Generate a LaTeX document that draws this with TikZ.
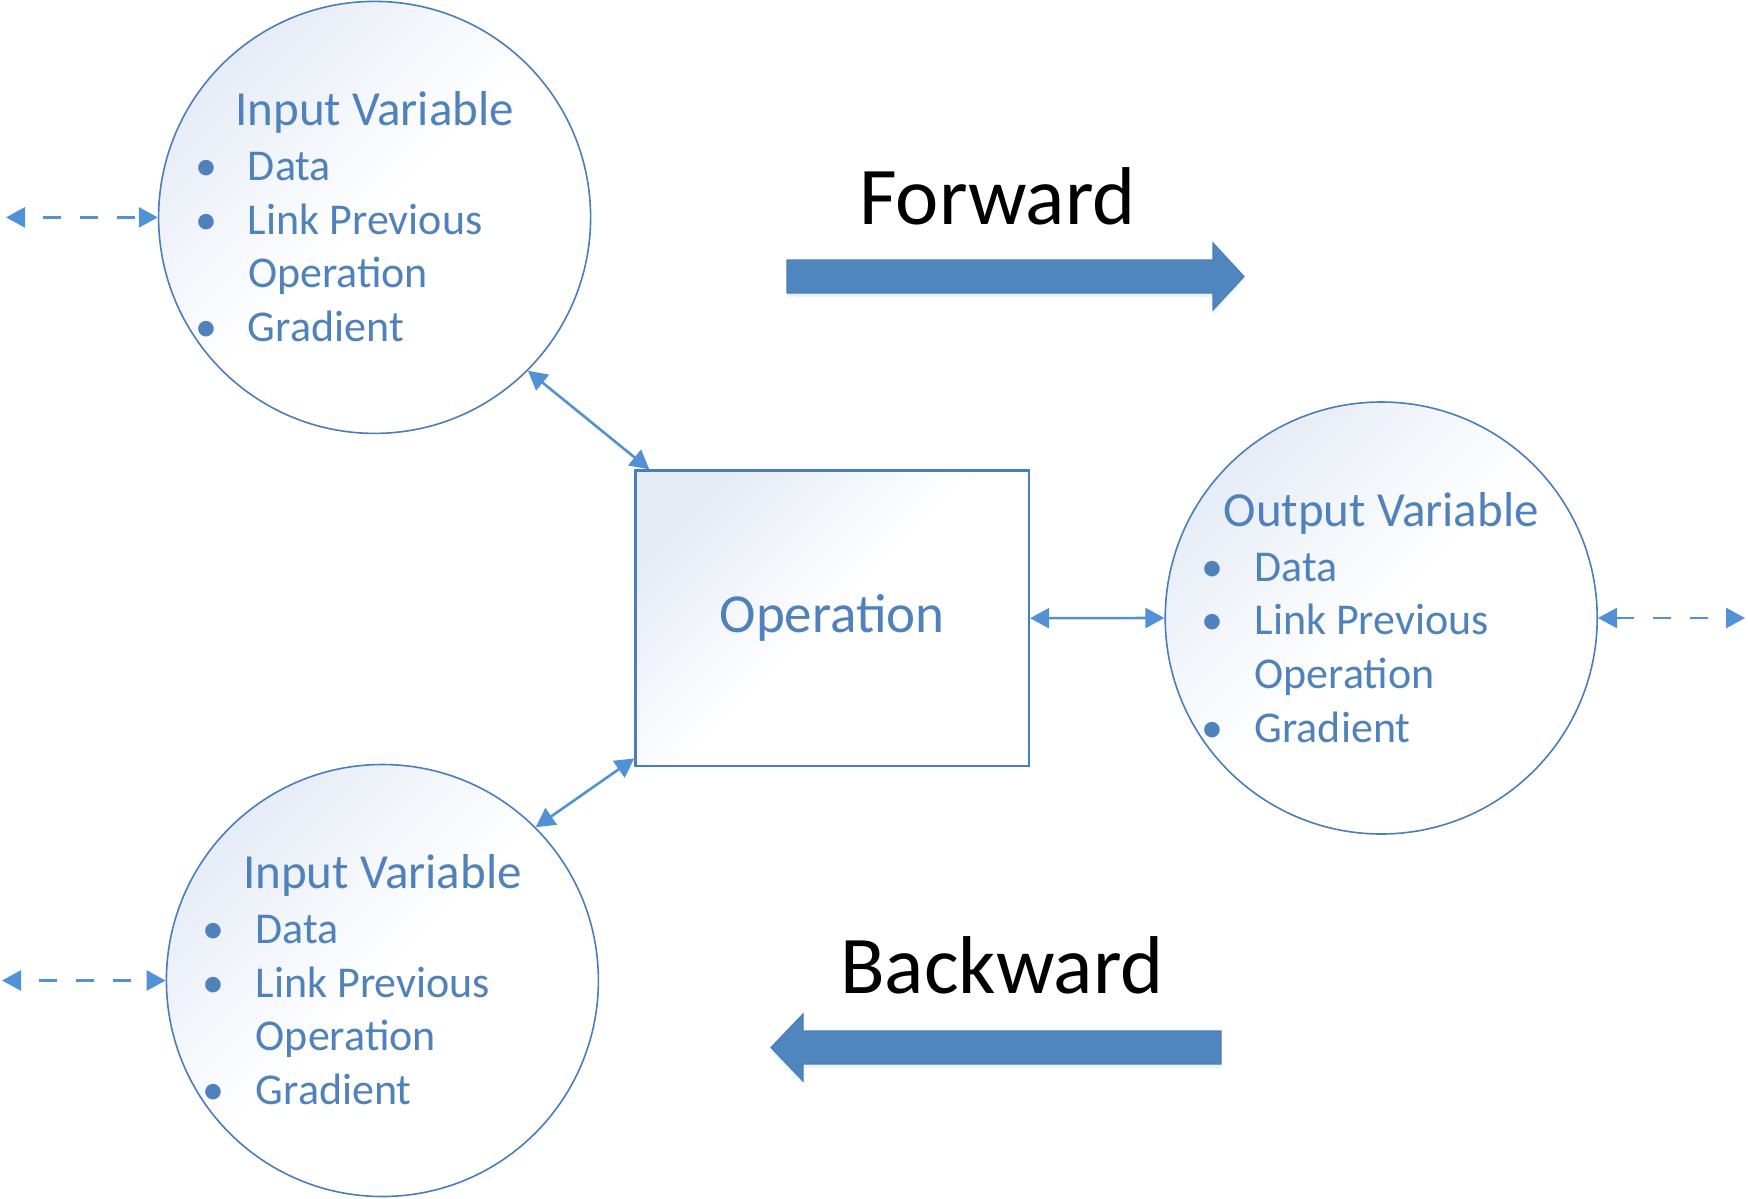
\documentclass[tikz,border=0pt]{standalone}
\usepackage{fontspec}
\setmainfont{Carlito}
\usetikzlibrary{positioning,shadows,arrows.meta}

\definecolor{varblue}{RGB}{79,129,189}
\definecolor{edgeblue}{RGB}{74,126,187}
\definecolor{linkblue}{RGB}{81,146,214}
\definecolor{shadeblue}{RGB}{230,236,246}
\definecolor{arrowfill}{RGB}{79,134,189}

\newcommand{\bull}{\makebox[42pt]{\textbullet}}
\newcommand{\nobull}{\hspace*{42pt}}

\begin{document}
\begin{tikzpicture}[
    x=0.5pt, y=-0.5pt,
    var/.style={circle, draw=edgeblue, line width=0.8pt, minimum size=216pt, inner sep=0pt,
        top color=shadeblue, bottom color=white, middle color=white, shading angle=45},
    op/.style={rectangle, draw=edgeblue, line width=1.1pt, minimum width=196.8pt, minimum height=147.7pt,
        top color=shadeblue, bottom color=white, middle color=white, shading angle=45,
        text=varblue, font=\fontsize{27.5}{33}\selectfont},
    heading/.style={anchor=base, inner sep=0pt, text=varblue, font=\fontsize{24.5}{29}\selectfont},
    items/.style={anchor=base west, inner sep=0pt, text=varblue, font=\fontsize{22}{26.85}\selectfont},
    link/.style={{Triangle[length=9.5pt,width=10pt]}-{Triangle[length=9.5pt,width=10pt]}, draw=linkblue, line width=1.3pt},
    extlink/.style={link, dash pattern=on 9pt off 9.5pt, dash phase=9pt},
    bigarrow/.style={fill=arrowfill, draw=edgeblue, line width=0.6pt,
        drop shadow={shadow xshift=0pt, shadow yshift=-2pt, fill=linkblue!30, opacity=0.4}},
    direction/.style={anchor=base, inner sep=0pt, text=black, font=\fontsize{41}{49}\selectfont}
]
\useasboundingbox (0,0) rectangle (1748,1198);

% variables and operation
\node [var] (inA) at (374.6,217.4) {};
\node [var] (inB) at (382.4,980.5) {};
\node [var] (outC) at (1381.2,618) {};
\node [op] (op) at (832.2,618.2) {Operation};

\node [heading] (inAhead) at ([yshift=46pt]inA.center) {Input Variable};
\node [items] (inAitems) at ([shift={(-105.5pt,18.5pt)}]inA.center) {\begin{tabular}[t]{@{}l@{}}
    \bull Data\\ \bull Link Previous\\ \nobull Operation\\ \bull Gradient\end{tabular}};

\node [heading] (inBhead) at ([yshift=46pt]inB.center) {Input Variable};
\node [items] (inBitems) at ([shift={(-105.5pt,18.5pt)}]inB.center) {\begin{tabular}[t]{@{}l@{}}
    \bull Data\\ \bull Link Previous\\ \nobull Operation\\ \bull Gradient\end{tabular}};

\node [heading] (outChead) at ([yshift=46pt]outC.center) {Output Variable};
\node [items] (outCitems) at ([shift={(-105.5pt,18.5pt)}]outC.center) {\begin{tabular}[t]{@{}l@{}}
    \bull Data\\ \bull Link Previous\\ \nobull Operation\\ \bull Gradient\end{tabular}};

% links
\draw [link] (inA.-45) -- ([xshift=7.5pt]op.north west);
\draw [link] ([yshift=4.3pt]op.south west) -- (inB.45);
\draw [link] (op.east) -- (outC.west);

\coordinate (inAend) at (6,217.4);
\coordinate (inBend) at (2,980.5);
\coordinate (outCend) at (1745,618);
\draw [extlink] (inAend) -- (inA.west);
\draw [extlink] (inBend) -- (inB.west);
\draw [extlink] (outCend) -- (outC.east);

% direction arrows
\path [bigarrow] (787,260) -- (1213,260) -- (1213,243) -- (1244,276.5) -- (1213,310) -- (1213,293) -- (787,293) -- cycle;
\path [bigarrow] (1221,1031) -- (803,1031) -- (803,1014) -- (771,1047.5) -- (803,1081) -- (803,1064) -- (1221,1064) -- cycle;
\node [direction] (fwd) at (997.5,225) {Forward};
\node [direction] (bwd) at (1002,993) {Backward};

\end{tikzpicture}
\end{document}
